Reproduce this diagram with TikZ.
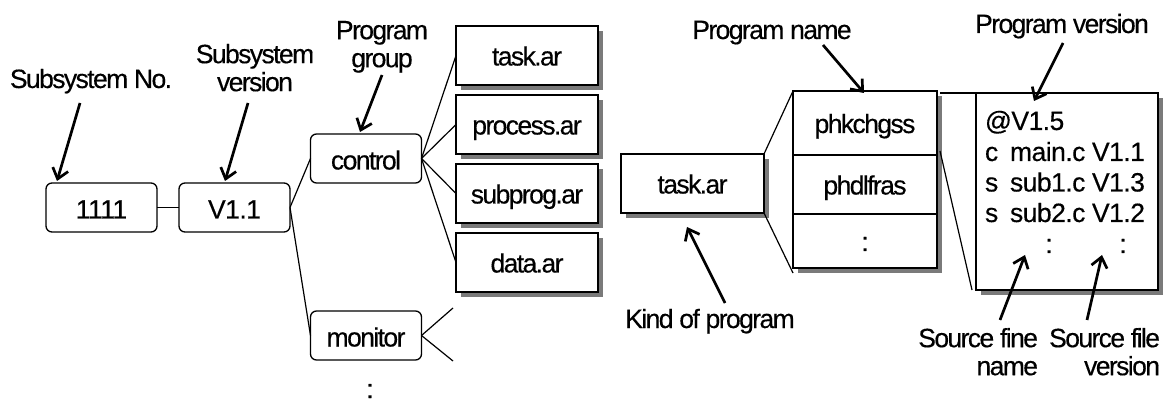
\documentclass[tikz,border=0pt]{standalone}
\usepackage{fontspec}
\setmainfont{Liberation Sans}[FakeBold=0.35]
\newfontfamily\tightsans{Liberation Sans}[LetterSpace=-6,FakeBold=0.35]
\newfontfamily\srcsans{Liberation Sans}[LetterSpace=-2,FakeBold=0.35]
\usetikzlibrary{arrows.meta,shadows,calc}

\begin{document}
\begin{tikzpicture}[x=1pt,y=-1pt,
  every node/.style={inner sep=0pt,outer sep=0pt},
  lbl/.style={font=\tightsans\fontsize{26.5}{28}\selectfont},
  boxfont/.style={font=\tightsans\fontsize{26.5}{28}\selectfont},
  numfont/.style={font=\srcsans\fontsize{26.5}{28}\selectfont},
  srcfont/.style={font=\srcsans\fontsize{26.5}{30}\selectfont},
  rbox/.style={boxfont,draw,fill=white,line width=1.3pt,rounded corners=6pt,
    minimum width=111pt,minimum height=49pt,text height=22pt,text depth=0pt},
  shade/.style={drop shadow={shadow xshift=5pt,shadow yshift=-5pt,fill=black!52,opacity=1}},
  sbox/.style={boxfont,draw,fill=white,line width=1.3pt,shade,
    minimum width=142pt,minimum height=59pt,text height=20pt,text depth=0pt},
  cell/.style={boxfont,draw,line width=1.3pt,minimum width=144pt,
    text height=20pt,text depth=0pt},
  wire/.style={line width=1.2pt},
  arr/.style={line width=2.7pt,-{Straight Barb[length=10pt,width=16pt]}}
]
\useasboundingbox (0,0) rectangle (1169,403);

% ---- left tree: subsystem, version, program groups ----
\node[rbox,numfont] (n1111) at (101.5,207.5) {1111};
\node[rbox,numfont] (v11)   at (234.5,207.5) {V1.1};
\node[rbox] (ctrl)  at (366,158.5) {control};
\node[rbox] (mon)   at (366,335.5) {monitor};
\node[lbl,anchor=base] (more1) at (370,398) {:};

\node[sbox] (taskA) at (527,55.5)  {task.ar};
\node[sbox] (procA) at (527,124.5) {process.ar};
\node[sbox] (subA)  at (527,193.5) {subprog.ar};
\node[sbox] (dataA) at (527,262.5) {data.ar};

\coordinate (m1) at (453,308);
\coordinate (m2) at (453,361);

\draw[wire] (n1111.east) -- (v11.west);
\draw[wire] (v11.east) -- (ctrl.west);
\draw[wire] (v11.east) -- (mon.west);
\foreach \b in {taskA,procA,subA,dataA}
  \draw[wire] (ctrl.east) -- (\b.west);
\draw[wire] (mon.east) -- (m1);
\draw[wire] (mon.east) -- (m2);

% ---- right part: archive, its programs, one program's sources ----
\node[sbox,minimum width=143pt] (taskB) at (692.5,183.5) {task.ar};

\node[draw,fill=white,line width=1.3pt,shade,minimum width=144pt,minimum height=177pt]
  (stack) at (865,179.5) {};
\node[cell,minimum height=64pt] (phk)  at (865,123)   {phkchgss};
\node[cell,minimum height=59pt] (phd)  at (865,184.5) {phdlfras};
\node[cell,minimum height=54pt] (rest) at (865,241)   {:};

\node[draw,fill=white,line width=1.3pt,shade,minimum width=182pt,minimum height=197pt]
  (src) at (1067,191.5) {};
\node[srcfont,anchor=base west] (r0) at (985,130) {@V1.5};
\node[srcfont,anchor=base west] (r1) at (985,161)
  {\makebox[25pt][l]{c}\makebox[82pt][l]{main.c}V1.1};
\node[srcfont,anchor=base west] (r2) at (985,191.5)
  {\makebox[25pt][l]{s}\makebox[82pt][l]{sub1.c}V1.3};
\node[srcfont,anchor=base west] (r3) at (985,222)
  {\makebox[25pt][l]{s}\makebox[82pt][l]{sub2.c}V1.2};
\node[srcfont,anchor=base] (d1) at (1049,253) {:};
\node[srcfont,anchor=base] (d2) at (1123,253) {:};

\draw[wire] (taskB.north east) -- (stack.north west);
\draw[wire] (taskB.south east) -- ($(stack.south west)+(0,5)$);
\draw[wire] ($(phk.north east)+(3,2)$) -- (src.north west);
\draw[wire] ($(phk.south east)+(3,-4)$) -- ($(src.south west)+(-4,0)$);

% ---- callout labels ----
\node[lbl,anchor=base] (lSubNo) at (91,88) {Subsystem No.};
\node[lbl,anchor=north,align=center] (lSubVer) at (255,44) {Subsystem\\version};
\node[lbl,anchor=north,align=center] (lPG) at (382,21) {Program\\group};
\node[lbl,anchor=base] (lPN) at (772,39) {Program name};
\node[lbl,anchor=base] (lPV) at (1062,33) {Program version};
\node[lbl,anchor=base] (lKind) at (710,328) {Kind of program};
\node[lbl,anchor=north east,align=right] (lSFN) at (1038,328) {Source fine\\name};
\node[lbl,anchor=north east,align=right] (lSFV) at (1160,328) {Source file\\version};

\coordinate (a1) at (80,103);    \coordinate (b1) at (57,181);
\coordinate (a2) at (248,103);   \coordinate (b2) at (225,181);
\coordinate (a3) at (382,75);    \coordinate (b3) at (360,132);
\coordinate (a4) at (823,45);    \coordinate (b4) at (864,93);
\coordinate (a5) at (1063,43);   \coordinate (b5) at (1034,101);
\coordinate (a6) at (725,303);   \coordinate (b6) at (687,227);
\coordinate (a7) at (1000,320);  \coordinate (b7) at (1025,255);
\coordinate (a8) at (1087,320);  \coordinate (b8) at (1102,255);
\foreach \i in {1,...,8}
  \draw[arr] (a\i) -- (b\i);
\end{tikzpicture}
\end{document}
